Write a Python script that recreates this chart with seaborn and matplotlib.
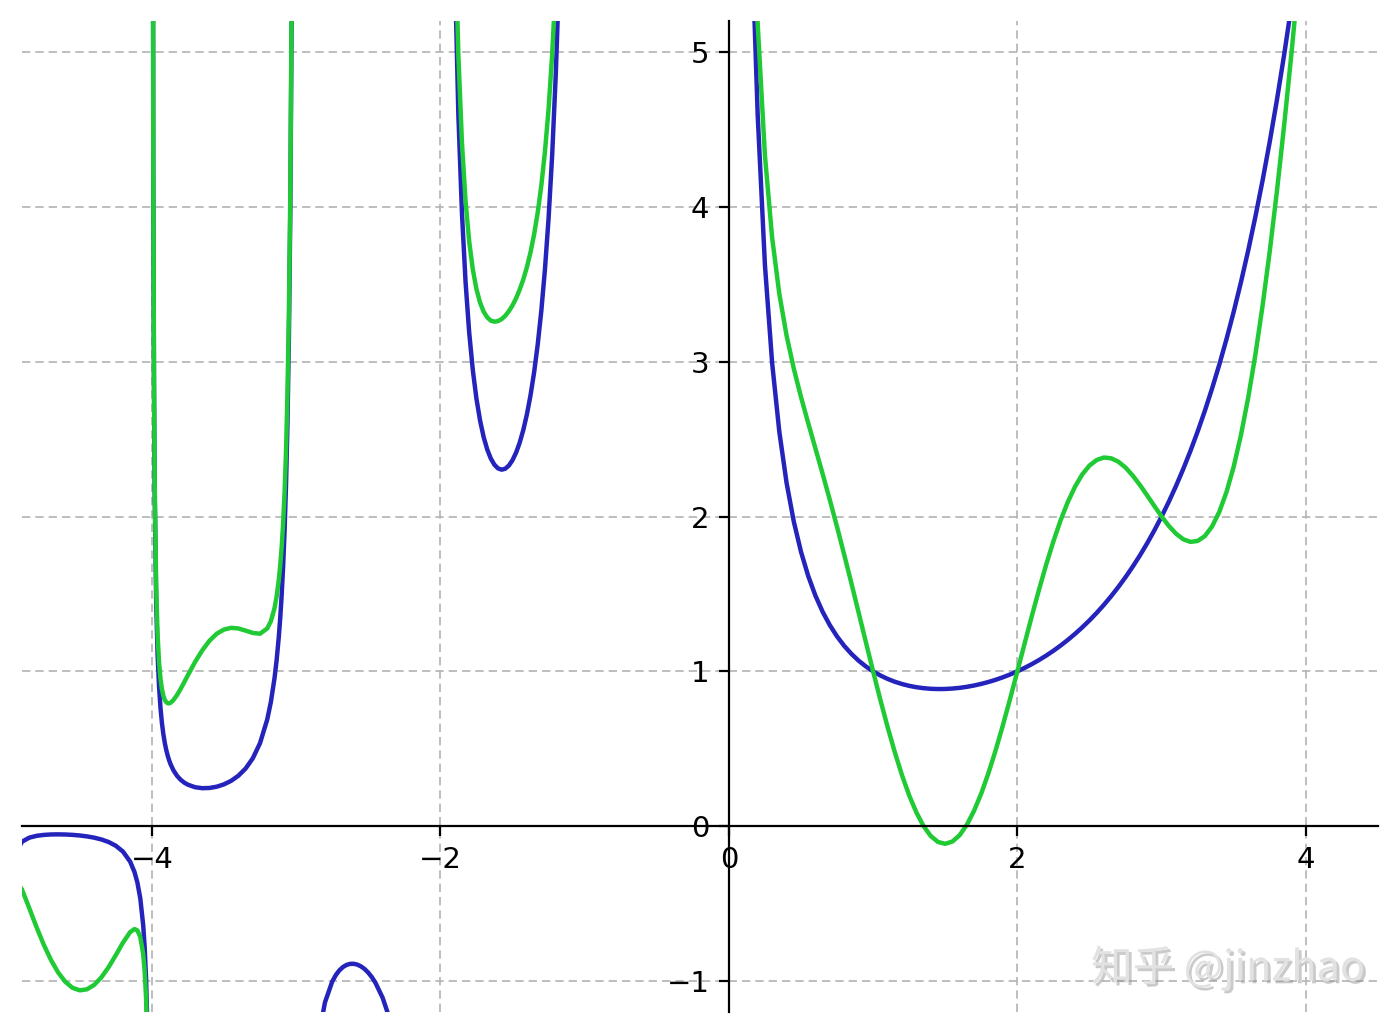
import matplotlib
matplotlib.use("Agg")
import matplotlib.pyplot as plt
import matplotlib.patheffects as pe
import seaborn as sns

# ---------------- data ----------------
# branch on (-5, -4)
xa = [-4.95, -4.90, -4.85, -4.80, -4.75, -4.70, -4.65, -4.60, -4.55, -4.50,
      -4.45, -4.40, -4.35, -4.30, -4.25, -4.20, -4.15, -4.12, -4.10, -4.08,
      -4.06, -4.05, -4.04, -4.03, -4.02]
blue_a = [-0.1822, -0.1004, -0.0743, -0.0624, -0.0564, -0.0535, -0.0528, -0.0537,
          -0.0561, -0.0600, -0.0659, -0.0741, -0.0856, -0.1020, -0.1262, -0.1641,
          -0.2295, -0.2963, -0.3640, -0.4663, -0.6380, -0.7759, -0.9832, -1.3294,
          -2.0227]
green_a = [-0.3386, -0.4094, -0.5283, -0.6502, -0.7635, -0.8625, -0.9438, -1.0048,
           -1.0438, -1.0600, -1.0536, -1.0252, -0.9766, -0.9110, -0.8333, -0.7519,
           -0.6835, -0.6644, -0.6730, -0.7150, -0.8254, -0.9323, -1.1085, -1.4235,
           -2.0855]

# branch on (-4, -3)
xb = [-3.995, -3.99, -3.985, -3.98, -3.97, -3.96, -3.95, -3.94, -3.93, -3.92,
      -3.91, -3.90, -3.89, -3.88, -3.87, -3.85, -3.825, -3.80, -3.775, -3.75,
      -3.70, -3.65, -3.60, -3.55, -3.50, -3.45, -3.40, -3.35, -3.30, -3.25,
      -3.20, -3.175, -3.15, -3.135, -3.12, -3.11, -3.10, -3.09, -3.08, -3.07,
      -3.06, -3.05, -3.04, -3.03, -3.02]
blue_b = [8.397, 4.2306, 2.8422, 2.1484, 1.4551, 1.1091, 0.9020, 0.7643, 0.6664,
          0.5933, 0.5368, 0.4919, 0.4555, 0.4253, 0.4001, 0.3605, 0.3250, 0.2996,
          0.2812, 0.2679, 0.2516, 0.2454, 0.2469, 0.2550, 0.2701, 0.2930, 0.3259,
          0.3723, 0.4385, 0.5363, 0.6891, 0.8009, 0.9523, 1.0712, 1.2208, 1.3440,
          1.4923, 1.6742, 1.9024, 2.1967, 2.5901, 3.1422, 3.9720, 5.3573, 8.131]
green_b = [8.413, 4.262, 2.889, 2.211, 1.549, 1.234, 1.058, 0.9517, 0.885, 0.8420,
           0.8158, 0.801, 0.7942, 0.793, 0.7973, 0.815, 0.8475, 0.887, 0.9307,
           0.975, 1.061, 1.136, 1.198, 1.243, 1.270, 1.281, 1.277, 1.263, 1.248,
           1.243, 1.277, 1.3234, 1.406, 1.4827, 1.589, 1.6827, 1.801, 1.9532,
           2.151, 2.4148, 2.778, 3.299, 4.097, 5.451, 8.194]

# branch on (-3, -2)  (only the blue curve is in view)
xc = [-2.85, -2.80, -2.75, -2.725, -2.70, -2.675, -2.65, -2.625, -2.60, -2.575,
      -2.55, -2.525, -2.50, -2.475, -2.45, -2.40, -2.35, -2.30]
blue_c = [-1.3880, -1.1386, -1.0045, -0.9620, -0.9311, -0.9095, -0.8959, -0.8891,
          -0.8887, -0.8942, -0.9054, -0.9223, -0.9453, -0.9747, -1.0110, -1.1080,
          -1.2472, -1.4471]

# branch on (-2, -1)
xd = [-1.95, -1.90, -1.875, -1.85, -1.825, -1.80, -1.775, -1.75, -1.725, -1.70,
      -1.675, -1.65, -1.625, -1.60, -1.575, -1.55, -1.525, -1.50, -1.475, -1.45,
      -1.425, -1.40, -1.375, -1.35, -1.325, -1.30, -1.275, -1.25, -1.225, -1.20,
      -1.175, -1.15, -1.10]
blue_d = [10.510, 5.5634, 4.592, 3.9557, 3.5115, 3.1881, 2.9462, 2.7624, 2.6216,
          2.5139, 2.4330, 2.3740, 2.3340, 2.3106, 2.3024, 2.3087, 2.3289, 2.3633,
          2.4123, 2.4768, 2.5585, 2.6593, 2.7821, 2.9308, 3.1106, 3.3284, 3.5941,
          3.9213, 4.3303, 4.8509, 5.531, 6.4492, 9.7148]
green_d = [10.666, 5.872, 4.975, 4.410, 4.034, 3.776, 3.596, 3.470, 3.382, 3.323,
           3.286, 3.265, 3.258, 3.262, 3.275, 3.296, 3.326, 3.363, 3.409, 3.465,
           3.531, 3.610, 3.706, 3.822, 3.963, 4.137, 4.355, 4.628, 4.980, 5.439,
           6.054, 6.903, 10.024]

# branch on (0, 4.5)
xe = [0.15, 0.175, 0.20, 0.25, 0.30, 0.35, 0.40, 0.45, 0.50, 0.55, 0.60, 0.65,
      0.70, 0.75, 0.80, 0.85, 0.90, 0.95, 1.00, 1.05, 1.10, 1.15, 1.20, 1.25,
      1.30, 1.35, 1.40, 1.45, 1.50, 1.55, 1.60, 1.65, 1.70, 1.75, 1.80, 1.85,
      1.90, 1.95, 2.00, 2.05, 2.10, 2.15, 2.20, 2.25, 2.30, 2.35, 2.40, 2.45,
      2.50, 2.55, 2.60, 2.65, 2.70, 2.75, 2.80, 2.85, 2.90, 2.95, 3.00, 3.05,
      3.10, 3.15, 3.20, 3.25, 3.30, 3.35, 3.40, 3.45, 3.50, 3.55, 3.60, 3.65,
      3.70, 3.75, 3.80, 3.85, 3.90, 3.95, 4.00]
blue_e = [6.2203, 5.287, 4.5908, 3.6256, 2.9916, 2.5461, 2.2182, 1.9681, 1.7725,
          1.6161, 1.4892, 1.3848, 1.2981, 1.2254, 1.1642, 1.1125, 1.0686, 1.0315,
          1.0000, 0.9735, 0.9514, 0.9330, 0.9182, 0.9064, 0.8975, 0.8912, 0.8873,
          0.8857, 0.8862, 0.8889, 0.8935, 0.9001, 0.9086, 0.9191, 0.9314, 0.9456,
          0.9618, 0.9799, 1.0000, 1.0222, 1.0465, 1.0730, 1.1018, 1.1330, 1.1667,
          1.2031, 1.2422, 1.2842, 1.3293, 1.3777, 1.4296, 1.4852, 1.5447, 1.6084,
          1.6765, 1.7494, 1.8274, 1.9108, 2.0000, 2.0955, 2.1976, 2.3069, 2.4240,
          2.5493, 2.6834, 2.8272, 2.9812, 3.1463, 3.3234, 3.5133, 3.7170, 3.9358,
          4.1707, 4.4230, 4.6942, 4.9857, 5.2993, 5.6368, 6.0000]
green_e = [6.674, 5.810, 5.179, 4.333, 3.801, 3.437, 3.169, 2.956, 2.772, 2.604,
           2.440, 2.276, 2.107, 1.933, 1.752, 1.567, 1.378, 1.188, 1.000, 0.817,
           0.642, 0.479, 0.330, 0.199, 0.089, 0.000, -0.064, -0.102, -0.114,
           -0.099, -0.058, 0.009, 0.100, 0.212, 0.344, 0.492, 0.653, 0.824, 1.000,
           1.179, 1.356, 1.527, 1.690, 1.840, 1.976, 2.094, 2.193, 2.272, 2.329,
           2.365, 2.381, 2.376, 2.354, 2.316, 2.264, 2.203, 2.136, 2.067, 2.000,
           1.939, 1.889, 1.853, 1.836, 1.842, 1.874, 1.936, 2.030, 2.159, 2.323,
           2.526, 2.766, 3.045, 3.362, 3.716, 4.106, 4.532, 4.990, 5.480, 6.000]

x_ticks = [-4, -2, 0, 2, 4]
y_ticks = [-1, 0, 1, 2, 3, 4, 5]
watermark = "知乎 @jinzhao"

BLUE = "#2424bc"
GREEN = "#1fca34"

# ---------------- figure ----------------
sns.set_theme(style="white")
plt.rcParams["font.family"] = ["DejaVu Sans"]
plt.rcParams["axes.unicode_minus"] = True

fig = plt.figure(figsize=(7, 5.175), dpi=200)
ax = fig.add_axes([22 / 1400, 23 / 1035, 1356 / 1400, 991 / 1035])

blue_sets = [(xa, blue_a), (xb, blue_b), (xc, blue_c), (xd, blue_d), (xe, blue_e)]
green_sets = [(xa, green_a), (xb, green_b), (xd, green_d), (xe, green_e)]

for xs, ys in blue_sets:
    sns.lineplot(x=xs, y=ys, ax=ax, color=BLUE, linewidth=1.6,
                 sort=False, estimator=None, zorder=2)
for xs, ys in green_sets:
    sns.lineplot(x=xs, y=ys, ax=ax, color=GREEN, linewidth=1.6,
                 sort=False, estimator=None, zorder=2.1)

ax.set_xlim(-4.9, 4.5)
ax.set_ylim(-1.2, 5.2)
ax.set_xticks(x_ticks)
ax.set_yticks(y_ticks)

ax.spines["left"].set_position(("data", 0))
ax.spines["bottom"].set_position(("data", 0))
ax.spines["top"].set_visible(False)
ax.spines["right"].set_visible(False)
for s in ("left", "bottom"):
    ax.spines[s].set_color("black")
    ax.spines[s].set_linewidth(0.8)

ax.tick_params(axis="both", which="major", direction="out", length=3.5,
               width=0.8, color="black", labelcolor="black", labelsize=10.5,
               bottom=True, left=True, pad=3.5)

ax.grid(True, color="#b3b3b3", linestyle=(0, (5, 3)), linewidth=0.6)
ax.set_axisbelow(True)
ax.set_xlabel("")
ax.set_ylabel("")
ax.set_facecolor("white")

fig.text(1228 / 1400, 1 - 968 / 1035, watermark, ha="center", va="center",
         fontsize=15, color="#e2e2e2",
         family=["Noto Sans CJK SC", "DejaVu Sans"],
         path_effects=[pe.withSimplePatchShadow(offset=(1.0, -1.0),
                                                shadow_rgbFace="#8a8a8a",
                                                alpha=0.45)])

fig.savefig("out.png", dpi=200, facecolor="white")
